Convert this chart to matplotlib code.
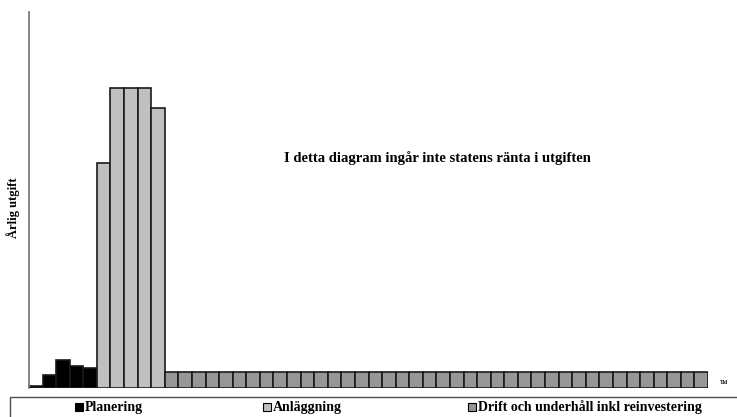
import matplotlib
matplotlib.use("Agg")
import matplotlib.pyplot as plt
from matplotlib.patches import Rectangle

# yearly spending per period, split by phase
planering = [2, 13, 28, 22, 20]
anlaggning = [225, 300, 300, 300, 280]
drift = [16, 16, 16, 16, 16, 16, 16, 16, 16, 16,
         16, 16, 16, 16, 16, 16, 16, 16, 16, 16,
         16, 16, 16, 16, 16, 16, 16, 16, 16, 16,
         16, 16, 16, 16, 16, 16, 16, 16, 16, 16]

labels = ["Planering", "Anläggning", "Drift och underhåll inkl reinvestering"]
colors = ["#000000", "#c0c0c0", "#969696"]

plt.rcParams['font.family'] = ['Liberation Serif', 'DejaVu Serif']

W, H = 737, 417
fig = plt.figure(figsize=(W / 100, H / 100), dpi=100)
ax = fig.add_axes([29 / W, (H - 388) / H, (708 - 29) / W, (388 - 12) / H])

start = 0
for vals, col in zip([planering, anlaggning, drift], colors):
    xs = list(range(start, start + len(vals)))
    ax.bar(xs, vals, width=1.0, color=col, edgecolor="#1a1a1a", linewidth=1.2)
    start += len(vals)

ax.set_xlim(-0.5, start - 0.5)
ax.set_ylim(0, 376)
ax.set_xticks([])
ax.set_yticks([])
for s in ["top", "right", "bottom"]:
    ax.spines[s].set_visible(False)
ax.spines["left"].set_color("#707070")
ax.spines["left"].set_linewidth(1.2)

ax.set_ylabel("Årlig utgift", fontsize=9, fontweight="bold")
ax.yaxis.set_label_coords(-9 / (708 - 29), 0.48)

fig.text(437 / W, 1 - 158 / H, "I detta diagram ingår inte statens ränta i utgiften",
         ha="center", va="center", fontsize=10.5, fontweight="bold")
fig.text(720 / W, 1 - 383 / H, "Tid", ha="left", va="center", fontsize=4, fontweight="bold")

# legend frame running off the bottom and right edges
fig.patches.append(Rectangle((10 / W, -0.1), 1.0, (H - 397) / H + 0.1,
                             transform=fig.transFigure, fill=False,
                             edgecolor="#505050", linewidth=1.0))
legend_x = [75, 263, 468]
ly = 407
for x, lab, col in zip(legend_x, labels, colors):
    fig.patches.append(Rectangle((x / W, 1 - (ly + 4) / H), 8 / W, 8 / H,
                                 transform=fig.transFigure, facecolor=col,
                                 edgecolor="#000000", linewidth=0.8))
    fig.text((x + 10) / W, 1 - ly / H, lab, ha="left", va="center",
             fontsize=10, fontweight="bold")

fig.savefig("out.png", dpi=100)
